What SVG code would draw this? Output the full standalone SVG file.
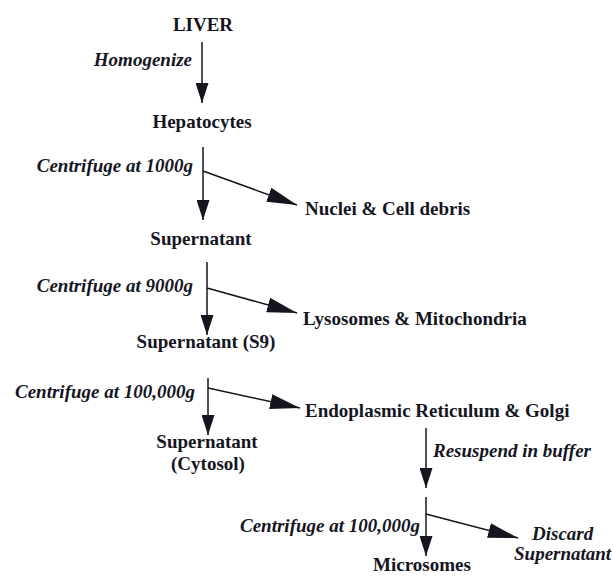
<svg xmlns="http://www.w3.org/2000/svg" width="613" height="576" viewBox="0 0 613 576">
<style>
text{font-family:"Liberation Serif","Times New Roman",serif;font-size:19px;font-weight:bold;fill:#15151f}
.i{font-style:italic}
.c{text-anchor:middle}
.e{text-anchor:end}
.ln{stroke:#15151f;stroke-width:1.5;fill:none}
.v{marker-end:url(#hv)}
.d{marker-end:url(#hd)}
</style>
<defs>
<marker id="hv" viewBox="0 0 20 13" markerWidth="20" markerHeight="13" refX="20" refY="6.5" orient="auto" markerUnits="userSpaceOnUse"><path d="M0,0 L20,6.5 L0,13 Z" fill="#15151f"/></marker>
<marker id="hd" viewBox="0 0 30 15" markerWidth="30" markerHeight="15" refX="30" refY="7.5" orient="auto" markerUnits="userSpaceOnUse"><path d="M0,0 L30,7.5 L0,15 Z" fill="#15151f"/></marker>
</defs>
<rect width="613" height="576" fill="#fff"/>
<g id="connectors">
<line class="ln v" x1="202" y1="42" x2="202" y2="103"/>
<line class="ln v" x1="203" y1="147" x2="203" y2="220"/>
<line class="ln d" x1="203" y1="171" x2="297" y2="205"/>
<line class="ln v" x1="207" y1="262" x2="207" y2="335"/>
<line class="ln d" x1="207" y1="288" x2="297" y2="313"/>
<line class="ln v" x1="208" y1="378" x2="208" y2="435"/>
<line class="ln d" x1="208" y1="388" x2="300" y2="408"/>
<line class="ln v" x1="426" y1="428" x2="426" y2="488"/>
<line class="ln v" x1="426" y1="497" x2="426" y2="556"/>
<line class="ln d" x1="426" y1="514" x2="518" y2="538"/>
</g>
<g id="liver"><text class="c" x="203" y="31">LIVER</text></g>
<g id="homogenize"><text class="i e" x="192" y="66">Homogenize</text></g>
<g id="hepatocytes"><text class="c" x="202" y="128">Hepatocytes</text></g>
<g id="cf1000"><text class="i e" x="193" y="172">Centrifuge at 1000g</text></g>
<g id="nuclei"><text x="305" y="215">Nuclei &amp; Cell debris</text></g>
<g id="supernatant1"><text class="c" x="201" y="245">Supernatant</text></g>
<g id="cf9000"><text class="i e" x="193" y="292">Centrifuge at 9000g</text></g>
<g id="lysosomes"><text x="303" y="325">Lysosomes &amp; Mitochondria</text></g>
<g id="s9"><text class="c" x="206" y="348">Supernatant (S9)</text></g>
<g id="cf100k1"><text class="i e" x="195" y="398">Centrifuge at 100,000g</text></g>
<g id="er"><text x="305" y="417">Endoplasmic Reticulum &amp; Golgi</text></g>
<g id="cytosol"><text class="c" x="207" y="448">Supernatant</text><text class="c" x="208" y="470">(Cytosol)</text></g>
<g id="resuspend"><text class="i" x="433" y="457">Resuspend in buffer</text></g>
<g id="cf100k2"><text class="i e" x="420" y="532">Centrifuge at 100,000g</text></g>
<g id="discard"><text class="i" x="532" y="540">Discard</text><text class="i" x="514" y="560">Supernatant</text></g>
<g id="microsomes"><text class="c" x="422" y="571">Microsomes</text></g>
</svg>
